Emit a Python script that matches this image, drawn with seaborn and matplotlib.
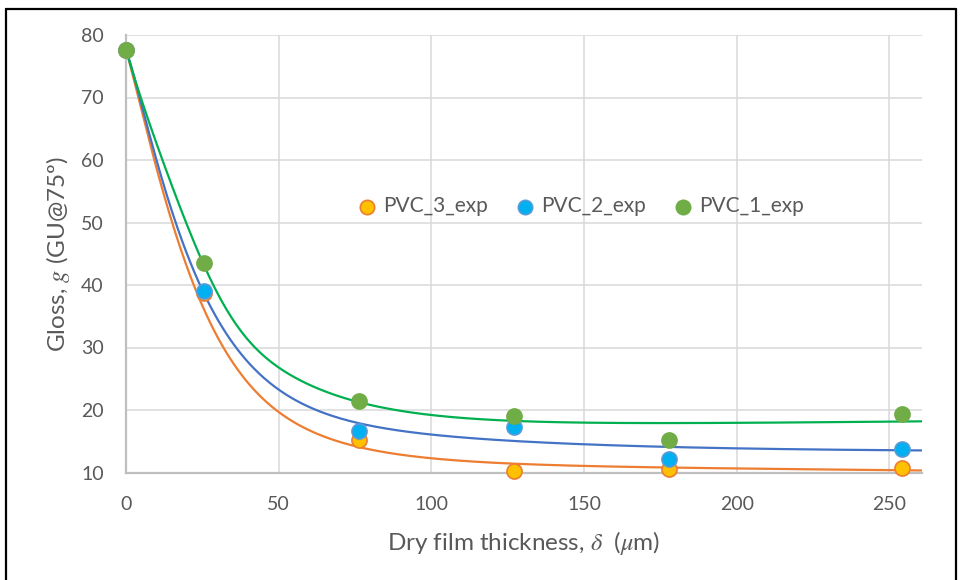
import numpy as np
import pandas as pd
import matplotlib
matplotlib.use("Agg")
import matplotlib.pyplot as plt
from matplotlib.lines import Line2D
import seaborn as sns

# ---- data ----
thickness = [0.0, 25.4, 76.2, 127.0, 177.8, 254.0]
pvc3_exp = [77.6, 38.8, 15.2, 10.2, 10.5, 10.8]
pvc2_exp = [77.6, 39.0, 16.6, 17.3, 12.2, 13.8]
pvc1_exp = [77.6, 43.5, 21.5, 19.0, 15.2, 19.4]
series_names = ["PVC_3_exp", "PVC_2_exp", "PVC_1_exp"]
x_ticks = [0, 50, 100, 150, 200, 250]
y_ticks = [10, 20, 30, 40, 50, 60, 70, 80]

# trend-curve parameters (g = a + b*exp(-(x/c)^p) + s*exp(-x/c2) + d*x, g(0)=g0)
g0 = 77.6
fit_a = [11.583, 13.020, 16.906]
fit_s = [41.497, 11.538, 50.556]
fit_d = [-0.00485, 0.00090, 0.00488]
fit_c = [23.50, 23.50, 27.80]
fit_p = [1.400, 1.190, 2.600]
fit_c2 = [28.0, 70.0, 30.0]


def trend(x, a, s, d, c, p, c2):
    b = g0 - a - s
    return a + b * np.exp(-(x / c) ** p) + s * np.exp(-x / c2) + d * x


sns.set_theme(style="white")
plt.rcParams["font.family"] = ["Lato", "DejaVu Sans"]
plt.rcParams["mathtext.fontset"] = "stix"

fig = plt.figure(figsize=(9.6, 5.8), dpi=100)
ax = fig.add_axes([126 / 960, 1 - 472.5 / 580, (921.7 - 126) / 960, (472.5 - 35) / 580])

line_colors = ["#ED7D31", "#4472C4", "#00B050"]
fills = ["#FFC000", "#00B0F0", "#70AD47"]
edges = ["#ED7D31", "#5B9BD5", "#70AD47"]

xs = np.linspace(0, 260.6, 600)
curves = pd.DataFrame({"x": np.tile(xs, 3),
                       "g": np.concatenate([trend(xs, fit_a[i], fit_s[i], fit_d[i], fit_c[i], fit_p[i], fit_c2[i])
                                            for i in range(3)]),
                       "series": np.repeat(series_names, len(xs))})
sns.lineplot(data=curves, x="x", y="g", hue="series", palette=dict(zip(series_names, line_colors)),
             lw=1.6, ax=ax, legend=False, zorder=2)

for ys_, name, fc, ec in zip([pvc3_exp, pvc2_exp, pvc1_exp], series_names, fills, edges):
    sns.scatterplot(x=thickness, y=ys_, ax=ax, s=118, color=fc, edgecolor=ec, linewidth=1.2,
                    label=name, zorder=4, clip_on=False)

ax.set_xlim(0, 260.6)
ax.set_ylim(10, 80)
ax.set_xticks(x_ticks)
ax.set_yticks(y_ticks)
ax.grid(True, color="#D9D9D9", lw=1.1)
ax.set_axisbelow(True)
for sp in ["top", "right"]:
    ax.spines[sp].set_visible(False)
for sp in ["left", "bottom"]:
    ax.spines[sp].set_color("#BFBFBF")
    ax.spines[sp].set_linewidth(1.6)
ax.tick_params(axis="both", length=0, labelsize=14, labelcolor="#595959")
ax.tick_params(axis="x", pad=17)
ax.tick_params(axis="y", pad=16)

ax.set_xlabel(r"Dry film thickness, $\delta$  ($\mu$m)", fontsize=17.5, color="#595959")
ax.set_ylabel(r"Gloss, $g$ (GU@75º)", fontsize=17.5, color="#595959")
ax.xaxis.set_label_coords(0.5, -0.13)
ax.yaxis.set_label_coords(-0.068, 0.5)

leg = ax.legend(loc="center", bbox_to_anchor=(0.571, 0.609), ncol=3, frameon=False,
                fontsize=15, handlelength=1.0, handletextpad=0.25, columnspacing=1.3,
                markerscale=0.95, borderpad=0.2)
for t in leg.get_texts():
    t.set_color("#595959")

# outer chart border
for (x0, y0, x1, y1) in [(6 / 960, 0, 6 / 960, 1 - 9 / 580), (6 / 960, 1 - 9 / 580, 956 / 960, 1 - 9 / 580),
                         (956 / 960, 1 - 9 / 580, 956 / 960, 0)]:
    fig.add_artist(Line2D([x0, x1], [y0, y1], transform=fig.transFigure, color="black", lw=1.6))

fig.savefig("out.png", dpi=100)
